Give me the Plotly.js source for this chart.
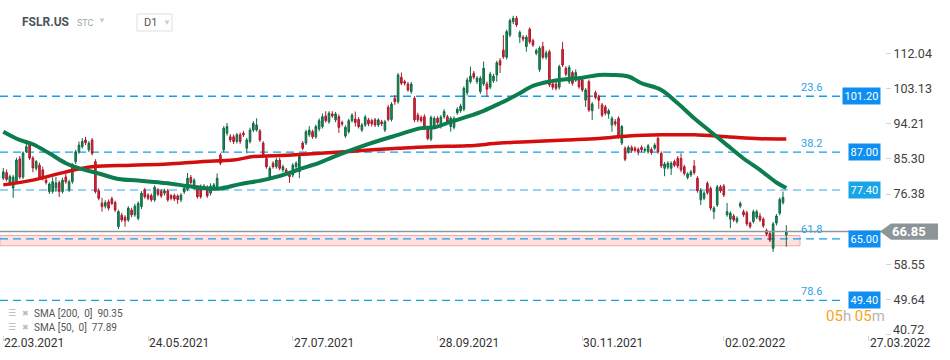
<!DOCTYPE html>
<html><head><meta charset="utf-8">
<script src="https://cdn.plot.ly/plotly-3.0.1.min.js"></script>
<style>html,body{margin:0;padding:0;background:#fff}#chart{width:950px;height:360px}</style>
</head><body><div id="chart"></div>
<script>
// ---- data ----
const open = [
80.4,81.8,79.1,77.9,79.5,85.3,80.7,87.1,88.8,85.5,
82.9,83.7,82.5,79.9,77.0,77.0,77.9,79.3,77.0,80.7,
77.4,79.5,84.6,87.1,88.4,90.1,87.6,90.1,84.6,77.2,
74.1,73.3,74.4,75.2,74.2,68.1,71.0,70.5,69.8,72.3,
71.1,70.2,73.2,77.4,76.1,76.0,74.9,77.4,77.1,76.6,
77.2,76.0,76.0,75.9,74.9,76.9,77.6,80.6,77.8,77.7,
78.2,77.8,78.1,76.6,78.1,78.1,86.3,87.6,91.8,90.9,
90.9,89.7,91.4,91.8,88.0,89.7,92.6,92.6,92.4,89.3,
85.4,80.4,84.2,83.3,85.0,82.5,82.5,81.2,81.2,83.3,
82.0,89.3,89.3,91.4,92.2,90.9,92.9,93.5,96.2,94.7,
96.7,95.2,96.0,94.5,91.1,92.2,95.0,95.4,95.3,92.6,
93.9,95.2,95.0,95.2,93.9,94.7,92.6,98.4,95.3,100.7,
99.8,106.0,104.9,104.3,102.4,100.7,96.4,95.8,96.0,93.1,
90.3,93.3,95.6,93.5,96.0,96.0,93.5,93.3,97.0,97.5,
97.9,102.1,104.9,107.0,104.9,102.4,104.3,104.3,103.5,105.1,
106.6,110.2,112.9,111.1,116.7,120.1,121.0,116.2,116.2,113.8,
118.2,115.3,112.1,108.0,113.8,111.1,112.5,104.3,104.3,103.5,
113.1,108.3,104.9,107.2,105.3,105.5,105.3,100.2,104.9,97.5,
102.1,101.1,99.0,98.5,96.7,93.9,94.7,95.6,89.3,88.0,
87.1,88.2,88.0,87.7,88.2,87.4,87.1,87.7,88.0,90.5,
86.7,82.9,83.2,82.9,84.6,85.4,85.4,83.3,80.6,81.2,
83.5,80.4,74.9,75.3,79.1,77.8,71.9,73.6,78.2,78.4,
71.1,70.0,70.8,69.4,73.3,71.9,71.6,69.0,69.4,70.5,
70.8,70.0,67.1,66.4,62.6,69.0,71.5,74.2,66.0];
const high = [
83.0,82.6,81.3,81.2,85.6,86.0,87.2,89.3,89.6,86.0,
85.0,84.3,83.3,80.6,79.3,80.6,80.7,79.8,80.5,81.8,
80.0,84.2,87.6,89.7,90.6,90.9,89.8,90.6,85.2,77.8,
75.4,74.8,75.0,75.7,74.7,72.4,71.6,71.0,73.3,72.9,
73.9,74.5,77.1,77.9,76.6,76.5,78.6,77.9,77.6,77.7,
77.7,76.4,76.5,76.3,76.6,78.4,81.7,81.2,80.4,78.1,
78.8,78.9,78.6,79.1,79.2,81.6,86.8,93.6,94.4,91.6,
91.5,91.9,92.0,92.4,90.6,93.2,94.9,95.6,92.9,89.8,
86.0,83.4,84.7,85.5,85.6,83.8,83.0,81.7,84.2,84.7,
86.4,89.8,92.7,93.6,92.7,94.0,95.6,96.8,97.4,97.4,
97.4,97.2,96.6,95.0,93.8,95.5,96.9,97.3,95.9,94.4,
96.5,95.7,95.5,95.7,95.6,95.2,95.2,99.0,99.7,101.5,
107.1,107.2,105.4,104.8,104.8,101.2,97.0,96.3,96.6,93.6,
96.3,96.1,96.1,96.4,97.9,96.5,96.1,96.1,98.4,99.3,
103.7,105.9,108.7,107.6,106.3,106.3,110.0,104.9,107.4,106.9,
110.2,110.9,116.7,118.1,120.9,121.6,121.6,117.9,116.7,116.7,
118.7,115.8,113.3,113.9,115.0,112.8,113.0,104.8,104.8,109.2,
115.0,108.8,109.1,107.7,108.0,106.0,105.8,103.3,105.4,99.7,
102.6,101.6,99.5,99.0,98.0,96.1,95.4,96.1,93.9,88.5,
88.7,88.7,88.5,88.2,88.7,88.2,89.1,88.2,89.3,91.0,
87.2,84.5,84.7,84.7,85.1,86.0,86.7,83.8,81.9,82.5,
85.0,80.9,77.9,77.1,79.6,78.3,73.3,78.7,78.7,78.9,
74.1,72.0,71.3,70.7,74.5,72.4,72.1,69.4,72.4,72.4,
71.6,70.5,67.6,66.9,69.3,71.3,75.5,77.0,68.5];
const low = [
79.9,79.6,78.4,75.4,79.0,80.2,80.2,86.8,85.0,81.9,
82.3,80.0,79.8,78.8,76.4,76.5,76.9,75.6,76.5,79.0,
76.9,79.0,84.0,86.6,87.9,88.8,87.0,86.2,76.5,74.8,
71.9,72.7,72.2,73.6,71.8,67.5,69.3,68.1,69.3,70.5,
70.6,69.7,72.6,75.2,74.8,74.4,74.4,75.8,75.4,76.0,
74.4,74.8,74.6,73.9,74.3,76.4,77.1,78.8,77.3,75.2,
75.2,77.3,75.4,76.0,77.6,77.6,83.7,87.0,91.2,89.5,
89.1,89.2,89.1,90.9,86.7,89.2,92.1,92.2,89.6,85.8,
82.8,79.9,82.8,82.8,82.4,81.9,81.1,79.2,80.6,82.8,
80.4,87.5,88.8,90.9,90.4,90.4,92.3,93.0,94.5,94.2,
95.7,94.6,91.9,93.6,90.6,91.7,94.5,93.5,93.0,92.1,
93.4,93.6,93.5,93.4,93.4,93.6,92.1,94.8,94.8,99.0,
99.3,104.0,103.9,102.3,101.8,94.6,94.6,94.5,92.6,90.0,
89.8,92.8,94.0,93.0,95.5,94.2,92.2,92.8,96.5,97.0,
97.4,101.4,104.4,105.5,104.3,101.8,103.8,101.1,103.0,104.6,
104.9,107.1,110.7,110.5,116.2,119.5,118.8,114.7,115.1,112.5,
114.5,113.7,111.6,107.4,110.6,110.5,103.5,102.8,102.7,102.9,
108.6,106.3,104.3,103.9,104.8,103.1,102.3,98.5,97.2,95.2,
100.4,98.0,95.9,96.3,95.5,92.2,93.6,90.4,88.8,84.7,
86.6,86.9,86.9,86.2,87.0,86.9,86.6,86.3,87.5,86.6,
83.0,80.9,82.6,81.2,83.2,82.9,81.9,81.1,80.1,80.7,
81.3,76.7,73.6,74.8,76.2,72.2,70.0,73.1,76.7,75.6,
70.6,67.7,69.3,68.9,72.8,70.6,68.3,67.6,68.9,70.0,
69.3,67.8,65.7,64.2,61.7,68.4,71.0,73.7,63.0];
const close = [
82.0,80.1,80.8,80.7,85.0,80.7,86.8,88.4,85.5,83.0,
84.6,80.7,80.4,79.3,78.9,79.5,79.2,77.0,79.9,79.5,
79.5,83.7,87.1,88.8,89.7,89.4,89.3,86.7,77.0,75.3,
73.2,74.2,72.8,74.0,72.3,71.9,69.8,69.6,72.8,71.1,
73.3,74.0,76.6,75.7,75.3,74.9,78.1,76.3,75.9,77.2,
74.9,75.3,75.1,75.0,76.1,77.9,80.4,79.3,79.9,75.7,
75.7,78.4,75.9,78.4,78.7,80.4,84.2,93.1,93.5,90.1,
89.7,91.4,89.7,91.4,90.1,92.6,94.3,93.9,90.1,86.3,
83.3,82.9,83.3,85.0,82.9,83.3,81.6,80.8,83.7,84.2,
85.9,88.0,92.2,92.6,90.9,93.5,95.0,96.0,95.0,96.9,
96.2,96.7,93.3,94.2,93.3,95.0,96.4,94.5,93.5,93.9,
95.9,94.2,94.2,93.9,95.2,94.2,94.7,95.3,99.2,99.8,
106.6,104.5,104.5,102.8,104.3,95.2,95.2,95.0,93.1,90.5,
95.8,95.6,94.5,95.9,97.3,94.7,95.6,95.6,97.9,98.7,
103.2,105.3,106.3,106.0,105.8,105.8,108.3,103.0,106.8,106.3,
109.7,109.1,111.2,117.6,120.4,121.0,119.3,117.4,115.7,116.2,
115.0,114.2,112.8,113.4,111.1,112.2,104.1,103.5,103.2,108.7,
109.1,106.8,108.5,104.5,107.2,103.6,102.8,102.8,97.7,99.2,
100.9,100.2,96.4,96.9,97.5,95.6,94.2,90.9,93.5,85.2,
88.2,87.4,87.4,87.1,87.6,87.7,88.6,86.9,88.8,87.1,
83.5,84.0,84.2,84.2,83.7,83.5,82.5,81.6,81.5,82.0,
81.8,77.2,77.4,76.6,76.7,72.8,72.8,78.2,77.2,76.1,
71.9,71.5,69.8,70.2,74.0,71.1,68.8,68.1,71.9,71.9,
69.8,68.3,66.2,64.7,68.8,70.8,75.0,75.5,66.85];

const sma200Idx = [0,9,19,27,39,50,60,70,76,80,90,100,110,120,130,141,151,161,171,181,190,200,210,220,230,238];
const sma200Val = [78.7,79.9,82.0,83.3,83.7,84.0,84.6,85.0,85.9,86.0,86.4,86.9,87.5,88.0,88.4,88.6,89.3,89.7,90.1,90.5,91.1,91.4,91.4,90.9,90.4,90.35];
const sma50Idx = [0,5,9,14,19,24,29,35,41,50,56,62,66,72,80,88,90,96,100,110,120,127,131,136,141,146,151,156,161,166,171,176,181,185,190,194,200,205,210,215,220,225,230,235,238];
const sma50Val = [92.2,90.1,89.0,86.7,84.2,82.7,81.6,80.2,79.8,79.1,78.4,77.8,77.8,78.9,80.1,82.0,82.7,84.3,85.7,88.8,91.4,93.1,93.3,94.7,96.0,97.5,99.4,101.5,103.8,104.9,105.5,105.9,106.6,106.6,106.2,104.5,102.8,99.4,95.6,92.2,88.8,85.4,82.5,79.3,77.89];

const dateLabels = ['22.03.2021','24.05.2021','27.07.2021','28.09.2021','30.11.2021','02.02.2022','27.03.2022'];
const dateIdx = [0,44,88,132,176,219,263];
const yTicks = [40.72,49.64,58.55,76.38,85.30,94.21,103.13,112.04];

const fibLevels = [101.20, 87.00, 77.40, 65.00, 49.40];
const fibPct = ['23.6','38.2','','61.8','78.6'];
const zoneLow = 63.25, zoneHigh = 65.85;
const lastPrice = 66.85;
const sma200Last = 90.35, sma50Last = 77.89;

// ---- layout helpers (pixel -> paper) ----
const PW = 885, PH = 335;
const px = x => x / PW;
const py = y => 1 - y / PH;
const FONT = 'Roboto, "Noto Sans", sans-serif';

const idx = open.map((_, i) => i);

const traces = [
  {type:'candlestick', x: idx, open, high, low, close,
   increasing:{fillcolor:'#1d8c5c', line:{color:'#0f6a44', width:1}},
   decreasing:{fillcolor:'#d9283b', line:{color:'#a8192b', width:1}},
   whiskerwidth:0, hoverinfo:'skip'},
  {type:'scatter', mode:'lines', x: sma200Idx, y: sma200Val,
   line:{color:'#d40d0d', width:3.5, shape:'spline', smoothing:1}, hoverinfo:'skip'},
  {type:'scatter', mode:'lines', x: sma50Idx, y: sma50Val,
   line:{color:'#0c7d4f', width:4, shape:'spline', smoothing:1}, hoverinfo:'skip'}
];

const shapes = [];
shapes.push({type:'rect', layer:'below', xref:'paper', yref:'y', x0:0, x1:px(800), y0:zoneLow, y1:zoneHigh,
  fillcolor:'#fde1e1', line:{color:'#f2a9a9', width:1}});
fibLevels.forEach((lv, i) => {
  const col = lv === 77.40 ? '#74c5f1' : '#12a0ee';
  shapes.push({type:'line', layer:'below', xref:'paper', yref:'y', x0:0, x1:px(845), y0:lv, y1:lv,
    line:{color:col, width:1.4, dash:'8px,5px'}});
});
shapes.push({type:'line', layer:'above', xref:'paper', yref:'y', x0:0, x1:1, y0:lastPrice, y1:lastPrice,
  line:{color:'#8e979b', width:1.5}});
shapes.push({type:'path', xref:'paper', yref:'y', layer:'above',
  path:`M ${px(880)},${lastPrice} L ${px(891)},${lastPrice+2.05} L ${px(938)},${lastPrice+2.05} L ${px(938)},${lastPrice-2.05} L ${px(891)},${lastPrice-2.05} Z`,
  fillcolor:'#8c9598', line:{width:0}});
shapes.push({type:'rect', xref:'paper', yref:'paper', x0:px(137), x1:px(172), y0:py(31), y1:py(14),
  fillcolor:'#fff', line:{color:'#e0e0e0', width:1}});

const ann = [];
const A = o => ann.push(Object.assign({showarrow:false, font:{family:FONT, size:11, color:'#555'}}, o));
A({xref:'paper', yref:'paper', x:px(20), y:py(22), xanchor:'left', yanchor:'middle', text:'<b>FSLR.US</b>', font:{family:FONT, size:12, color:'#4a545a'}});
A({xref:'paper', yref:'paper', x:px(75), y:py(23), xanchor:'left', yanchor:'middle', text:'STC', font:{family:FONT, size:9, color:'#9aa5ab'}});
A({xref:'paper', yref:'paper', x:px(96), y:py(21), xanchor:'left', yanchor:'middle', text:'▼', font:{family:FONT, size:8, color:'#c9ced1'}});
A({xref:'paper', yref:'paper', x:px(142), y:py(22.5), xanchor:'left', yanchor:'middle', text:'D1', font:{family:FONT, size:11, color:'#555'}});
A({xref:'paper', yref:'paper', x:px(161), y:py(22), xanchor:'left', yanchor:'middle', text:'▼', font:{family:FONT, size:8, color:'#c9ced1'}});
fibLevels.forEach((lv, i) => {
  if (fibPct[i]) A({xref:'paper', yref:'y', x:px(811), y:lv, yshift:9, xanchor:'center', yanchor:'middle', text:fibPct[i], font:{family:FONT, size:11, color:'#2aa2e8'}});
});
fibLevels.forEach((lv, i) => {
  A({xref:'paper', yref:'y', x:px(881), y:lv, xanchor:'right', yanchor:'middle', text:lv.toFixed(2),
     bgcolor: lv === 77.40 ? '#17a5e8' : '#0d8ef0', borderpad:1.5, font:{family:FONT, size:11, color:'#fff'}});
});
A({xref:'paper', yref:'y', x:px(890), y:lastPrice, xanchor:'left', yanchor:'middle', text:'<b>'+lastPrice.toFixed(2)+'</b>', font:{family:FONT, size:13, color:'#fff'}});
A({xref:'paper', yref:'paper', x:px(824), y:py(316), xanchor:'left', yanchor:'middle',
   text:'<span style="color:#f7a41e">05</span><span style="color:#b6b6b6">h </span><span style="color:#f7a41e">05</span><span style="color:#b6b6b6">m</span>',
   font:{family:FONT, size:15, color:'#f7a41e'}});
// lowest y tick label sits a little higher than its tick in the reference
A({xref:'paper', yref:'paper', x:px(891), y:py(329), xanchor:'left', yanchor:'middle', text:yTicks[0].toFixed(2), font:{family:FONT, size:12.5, color:'#3f3f3f'}});
const legRows = [['SMA [200,\u00a0 0]\u00a0 ' + sma200Last.toFixed(2), 313], ['SMA [50,\u00a0 0]\u00a0 ' + sma50Last.toFixed(2), 327]];
legRows.forEach(r => {
  A({xref:'paper', yref:'paper', x:px(6), y:py(r[1]), xanchor:'left', yanchor:'middle', text:'☰', font:{family:'DejaVu Sans', size:9, color:'#b0b4b8'}});
  A({xref:'paper', yref:'paper', x:px(20), y:py(r[1]), xanchor:'left', yanchor:'middle', text:'✖', font:{family:'DejaVu Sans', size:8, color:'#b8bcc0'}});
  A({xref:'paper', yref:'paper', x:px(32), y:py(r[1]), xanchor:'left', yanchor:'middle', text:r[0], font:{family:FONT, size:10, color:'#555'}});
});
dateLabels.forEach((d, i) => {
  A({xref:'x', yref:'paper', x:dateIdx[i], xshift:-1, y:py(343), xanchor:'left', yanchor:'middle', text:d, font:{family:FONT, size:12, color:'#333'}});
});

const layout = {
  width:950, height:360,
  margin:{l:0, r:65, t:0, b:25, pad:0},
  paper_bgcolor:'#fff', plot_bgcolor:'#fff', showlegend:false, hovermode:false,
  xaxis:{range:[-1,268], showgrid:false, zeroline:false, showline:false, rangeslider:{visible:false},
         tickvals:dateIdx, showticklabels:false, ticks:'outside', ticklen:5, tickcolor:'#d5d5d5', fixedrange:true},
  yaxis:{side:'right', range:[40.6,125.62], showgrid:false, zeroline:false, showline:false,
         tickvals:yTicks, ticktext:yTicks.map((v, i) => i === 0 ? '' : v.toFixed(2)), ticks:'outside', ticklen:5, tickcolor:'#d5d5d5',
         tickfont:{family:FONT, size:12.5, color:'#3f3f3f'}, fixedrange:true},
  shapes, annotations: ann
};

Plotly.newPlot('chart', traces, layout, {staticPlot:true, displayModeBar:false});
</script>
</body></html>
